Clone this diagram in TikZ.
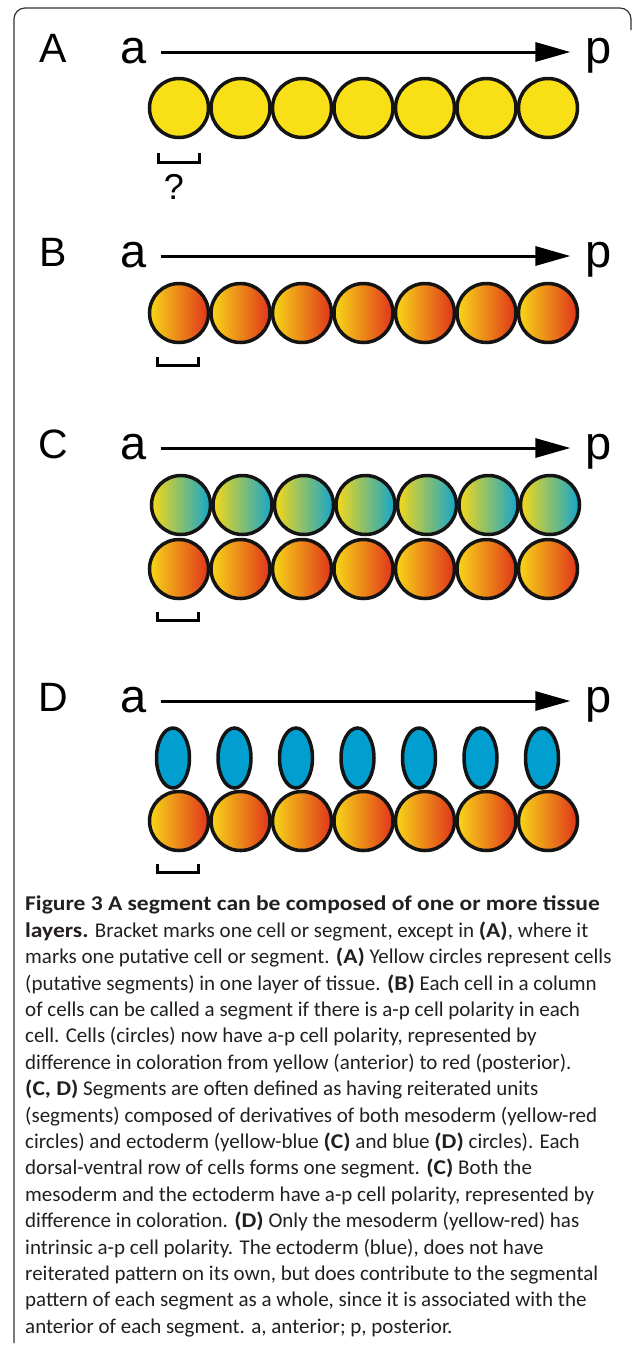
\documentclass[tikz,border=0pt]{standalone}
\usepackage{fontspec}
\setmainfont{Carlito}[BoldFeatures={FakeStretch=1.12}]
\newfontfamily\lblfont{Liberation Sans}
\usepackage{tikz}
\usetikzlibrary{arrows.meta, calc, shapes.geometric, positioning}

\definecolor{cellyellow}{RGB}{249,224,22}
\definecolor{gradyellow}{RGB}{247,216,24}
\definecolor{gradorange}{RGB}{238,140,30}
\definecolor{gradred}{RGB}{224,52,27}
\definecolor{gradgreen}{RGB}{130,194,118}
\definecolor{gradcyan}{RGB}{18,165,204}
\definecolor{ectoblue}{RGB}{0,159,208}
\definecolor{captext}{RGB}{35,31,32}

\newcommand{\capfont}{\fontsize{21}{26.4}\selectfont}

\begin{document}
\begin{tikzpicture}[x=1pt, y=-1pt,
    panel/.style={font=\lblfont\fontsize{41}{41}\selectfont, anchor=base},
    ends/.style={font=\lblfont\fontsize{47}{47}\selectfont, anchor=base},
    axis/.style={line width=3pt, -{Triangle[length=35pt, width=19pt]}},
    cell/.style={draw=black!92, line width=3.5pt, circle, minimum size=59pt, inner sep=0pt},
    plain/.style={cell, fill=cellyellow},
    meso/.style={cell, left color=gradyellow, middle color=gradorange, right color=gradred},
    ecto/.style={cell, left color=gradyellow, middle color=gradgreen, right color=gradcyan},
    blob/.style={draw=black!92, line width=3.5pt, ellipse, fill=ectoblue, minimum width=33pt, minimum height=60pt, inner sep=0pt},
    bracket/.style={line width=3pt, line cap=rect}]

\useasboundingbox (0,0) rectangle (633,1345);

% frame
      \draw[line width=1.2pt, black!80, rounded corners=11pt] (14,1343) -- (14,8) -- (631,8) -- (631,30);

% A
      \node[panel] (labA) at (53,62) {A};
      \node[ends] (aA) at (134,63) {a};
      \node[ends] (pA) at (599,63) {p};
      \draw[axis] ($(aA.base east)+(10,-11)$) -- ($(pA.base west)+(-12,-11)$);
      \foreach \i in {1,...,7}
        \node[plain] (A\i) at ({179+61.5*(\i-1)},108) {};
      \draw[bracket] ($(A1.south)+(-21,15)$) |- ($(A1.south)+(20,23)$) -- ($(A1.south)+(20,15)$);
      \node[font=\lblfont\fontsize{36}{36}\selectfont, anchor=base] (qA) at (174,199) {?};

% B
      \node[panel] (labB) at (53,266) {B};
      \node[ends] (aB) at (134,267) {a};
      \node[ends] (pB) at (599,267) {p};
      \draw[axis] ($(aB.base east)+(10,-11)$) -- ($(pB.base west)+(-12,-11)$);
      \foreach \i in {1,...,7}
        \node[meso] (B\i) at ({179+61.5*(\i-1)},313) {};
      \draw[bracket] ($(B1.south)+(-22,14)$) |- ($(B1.south)+(19,21)$) -- ($(B1.south)+(19,14)$);

% C
      \node[panel] (labC) at (53,458) {C};
      \node[ends] (aC) at (134,459) {a};
      \node[ends] (pC) at (599,459) {p};
      \draw[axis] ($(aC.base east)+(10,-11)$) -- ($(pC.base west)+(-12,-11)$);
      \foreach \i in {1,...,7} {
        \node[ecto] (Ct\i) at ({181+61.5*(\i-1)},505) {};
        \node[meso] (Cb\i) at ({179+61.5*(\i-1)},569) {};
      }
      \draw[bracket] ($(Cb1.south)+(-22,13)$) |- ($(Cb1.south)+(19,20)$) -- ($(Cb1.south)+(19,13)$);

% D
      \node[panel] (labD) at (53,711) {D};
      \node[ends] (aD) at (134,712) {a};
      \node[ends] (pD) at (599,712) {p};
      \draw[axis] ($(aD.base east)+(10,-11)$) -- ($(pD.base west)+(-12,-11)$);
      \foreach \i in {1,...,7} {
        \node[blob] (De\i) at ({173+61.5*(\i-1)},758) {};
        \node[meso] (Db\i) at ({179+61.5*(\i-1)},821) {};
      }
      \draw[bracket] ($(Db1.south)+(-22,13)$) |- ($(Db1.south)+(19,20)$) -- ($(Db1.south)+(19,13)$);

% caption
      \node[anchor=north west, align=left, inner sep=0pt, text=captext, font=\capfont] (cap) at (25,896) {%
\textbf{Figure 3 A segment can be composed of one or more tissue}\\
\textbf{layers.} Bracket marks one cell or segment, except in \textbf{(A)}, where it\\
marks one putative cell or segment. \textbf{(A)} Yellow circles represent cells\\
(putative segments) in one layer of tissue. \textbf{(B)} Each cell in a column\\
of cells can be called a segment if there is a-p cell polarity in each\\
cell. Cells (circles) now have a-p cell polarity, represented by\\
difference in coloration from yellow (anterior) to red (posterior).\\
\textbf{(C, D)} Segments are often defined as having reiterated units\\
(segments) composed of derivatives of both mesoderm (yellow-red\\
circles) and ectoderm (yellow-blue \textbf{(C)} and blue \textbf{(D)} circles). Each\\
dorsal-ventral row of cells forms one segment. \textbf{(C)} Both the\\
mesoderm and the ectoderm have a-p cell polarity, represented by\\
difference in coloration. \textbf{(D)} Only the mesoderm (yellow-red) has\\
intrinsic a-p cell polarity. The ectoderm (blue), does not have\\
reiterated pattern on its own, but does contribute to the segmental\\
pattern of each segment as a whole, since it is associated with the\\
anterior of each segment. a, anterior; p, posterior.};

\end{tikzpicture}
\end{document}
